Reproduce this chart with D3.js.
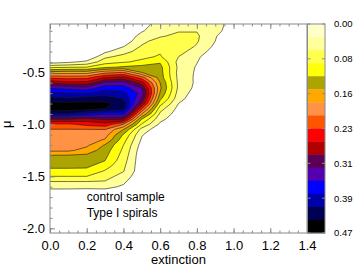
<!DOCTYPE html>
<html>
<head>
<meta charset="utf-8">
<script src="https://cdn.jsdelivr.net/npm/d3@7"></script>
<style>
  body { margin: 0; background: #fff; }
  svg { display: block; }
  text { font-family: "Liberation Sans", Arial, Helvetica, sans-serif; fill: #000; }
</style>
</head>
<body>
<svg id="chart" width="357" height="268"></svg>
<script>
// grid columns (extinction) and rows (mu) of the density map
const extGrid = [0.0, 0.1, 0.2, 0.3, 0.4, 0.5, 0.6, 0.7, 0.8, 0.9, 1.0];
const muGrid = [0.00, -0.05, -0.10, -0.15, -0.20, -0.25, -0.30, -0.35, -0.40, -0.45,
  -0.50, -0.55, -0.60, -0.65, -0.70, -0.75, -0.80, -0.85, -0.90, -0.95,
  -1.00, -1.05, -1.10, -1.15, -1.20, -1.25, -1.30, -1.35, -1.40, -1.45,
  -1.50, -1.55, -1.60, -1.65, -1.70, -1.75];

// density, in colour-step units (1 step = 0.47 / 16), one row per mu value
const densityGrid = [
  [0, 0, 0, 0, 0, 0.5, 1.3, 1.7, 1.9, 1.9, 0],
  [0, 0, 0, 0, 0, 0.7, 1.4, 1.8, 1.9, 1.85, 0],
  [0, 0, 0, 0, 0.2, 0.9, 1.6, 1.9, 1.95, 1.6, 0],
  [0, 0, 0, 0, 0.3, 1.3, 1.85, 2.3, 2.15, 1.1, 0],
  [0, 0, 0, 0, 0.4, 1.7, 2.5, 2.5, 2.1, 1.0, 0],
  [0, 0, 0, 0.2, 0.95, 2.1, 2.7, 2.6, 1.9, 0.8, 0],
  [0, 0, 0, 0.8, 1.65, 2.4, 2.9, 2.3, 1.6, 0.5, 0],
  [0, 0, 0, 1.8, 2.3, 2.8, 3.1, 2.0, 1.2, 0.2, 0],
  [0.45, 0.8, 1.25, 2.57, 2.9, 3.2, 3.9, 1.7, 1.05, 0, 0],
  [2.75, 2.9, 3.0, 3.8, 4.15, 4.4, 4.3, 1.8, 0.9, 0, 0],
  [5.4, 5.5, 5.5, 6.67, 7.0, 5.0, 4.4, 1.7, 0.85, 0, 0],
  [7.7, 7.6, 7.67, 9.0, 9.4, 7.5, 4.5, 1.75, 0.8, 0, 0],
  [9.8, 9.35, 9.4, 11.2, 11.4, 9.5, 5.0, 1.8, 0.8, 0, 0],
  [11.9, 11.7, 11.4, 12.6, 12.5, 11.0, 5.2, 1.8, 0.7, 0, 0],
  [13.2, 13.1, 13.0, 13.6, 13.3, 11.6, 4.9, 1.6, 0.5, 0, 0],
  [14.3, 14.2, 14.4, 14.5, 13.9, 11.0, 4.3, 1.4, 0.3, 0, 0],
  [15.3, 15.25, 15.3, 15.2, 14.7, 10.0, 3.4, 1.0, 0, 0, 0],
  [15.6, 15.6, 15.5, 15.0, 14.4, 8.0, 2.4, 0.7, 0, 0, 0],
  [14.0, 14.0, 13.0, 12.3, 12.5, 6.0, 1.8, 0.5, 0, 0, 0],
  [10.0, 10.0, 9.6, 10.2, 10.0, 4.0, 1.3, 0.3, 0, 0, 0],
  [7.8, 7.8, 8.3, 8.6, 7.0, 2.9, 0.8, 0, 0, 0, 0],
  [6.95, 6.95, 6.95, 7.0, 5.0, 1.6, 0.3, 0, 0, 0, 0],
  [6.8, 6.8, 6.7, 6.45, 3.9, 1.1, 0, 0, 0, 0, 0],
  [6.6, 6.6, 6.45, 5.9, 3.4, 0.85, 0, 0, 0, 0, 0],
  [6.4, 6.4, 6.2, 4.9, 3.0, 0.6, 0, 0, 0, 0, 0],
  [6.2, 6.2, 5.6, 4.5, 2.8, 0.4, 0, 0, 0, 0, 0],
  [4.95, 4.9, 4.8, 4.25, 2.6, 0.3, 0, 0, 0, 0, 0],
  [4.65, 4.65, 4.5, 4.0, 2.4, 0.3, 0, 0, 0, 0, 0],
  [4.25, 4.25, 4.2, 3.45, 2.2, 0.3, 0, 0, 0, 0, 0],
  [3.7, 3.7, 3.7, 2.9, 2.05, 0.3, 0, 0, 0, 0, 0],
  [3.0, 3.0, 3.0, 2.4, 1.6, 0.2, 0, 0, 0, 0, 0],
  [2.0, 2.0, 2.0, 1.95, 1.2, 0, 0, 0, 0, 0, 0],
  [1.3, 1.3, 1.3, 1.3, 0.85, 0, 0, 0, 0, 0, 0],
  [0.6, 0.6, 0.5, 0.6, 0, 0, 0, 0, 0, 0, 0],
  [0, 0, 0, 0, 0, 0, 0, 0, 0, 0, 0],
  [0, 0, 0, 0, 0, 0, 0, 0, 0, 0, 0]
];

const contourLevels = [1, 2, 3, 4, 5, 6, 7, 8, 9, 10, 11, 12, 13, 14, 15];
const bandColors = ['#ffffcc', '#ffff9c', '#ffff4c', '#ffff0a', '#aca400', '#ffa800', '#ff9244',
  '#ff5400', '#ff0000', '#b20000', '#5c0056', '#5400b0', '#0000ff', '#0000a8', '#000052', '#000000'];

const xTicks = [0.0, 0.2, 0.4, 0.6, 0.8, 1.0, 1.2, 1.4];
const yTicks = [-2.0, -1.5, -1.0, -0.5];
const colorbarTicks = [0, 0.0783, 0.1567, 0.235, 0.3133, 0.3917, 0.47];
const notes = ['control sample', 'Type I spirals'];

const plot = { left: 50, right: 307, top: 24, bottom: 233 };
const axisColor = '#8a8a8a';

const svg = d3.select('#chart');

const x = d3.scaleLinear().domain([0, 1.4]).range([plot.left, plot.right]);
const y = d3.scaleLinear().domain([-2.045, -0.035]).range([plot.bottom, plot.top]);

svg.append('defs').append('clipPath').attr('id', 'plot-clip')
  .append('rect')
  .attr('x', plot.left).attr('y', plot.top)
  .attr('width', plot.right - plot.left).attr('height', plot.bottom - plot.top);

// filled contours
const nx = extGrid.length, ny = muGrid.length;
const values = densityGrid.flat();
const contours = d3.contours().size([nx, ny]).thresholds(contourLevels)(values);

const dE = extGrid[1] - extGrid[0], dM = muGrid[1] - muGrid[0];
const gridToScreen = d3.geoTransform({
  point: function (gx, gy) {
    this.stream.point(x(extGrid[0] + (gx - 0.5) * dE), y(muGrid[0] + (gy - 0.5) * dM));
  }
});
const path = d3.geoPath(gridToScreen);

svg.append('g')
  .attr('clip-path', 'url(#plot-clip)')
  .selectAll('path')
  .data(contours)
  .join('path')
  .attr('d', path)
  .attr('fill', d => bandColors[d.value])
  .attr('stroke', '#1a1a1a')
  .attr('stroke-width', 0.6)
  .attr('stroke-linejoin', 'round');

// axes
function styleAxis(g) {
  g.select('.domain').remove();
  g.selectAll('.tick line').attr('stroke', axisColor);
  g.selectAll('.tick text').attr('font-size', 13).attr('fill', '#000');
}

const xMinor = d3.range(0, 1.4001, 0.05);
const yMinor = d3.range(-2.0, -0.05, 0.1);

svg.append('g').attr('transform', `translate(0,${plot.bottom})`)
  .call(d3.axisBottom(x).tickValues(xMinor).tickSize(-2.5).tickFormat(''))
  .call(styleAxis);
svg.append('g').attr('transform', `translate(0,${plot.bottom})`)
  .call(d3.axisBottom(x).tickValues(xTicks).tickSize(-5).tickPadding(8).tickFormat(d => d.toFixed(1)))
  .call(styleAxis);

svg.append('g').attr('transform', `translate(0,${plot.top})`)
  .call(d3.axisTop(x).tickValues(xMinor).tickSize(-2.5).tickFormat(''))
  .call(styleAxis);
svg.append('g').attr('transform', `translate(0,${plot.top})`)
  .call(d3.axisTop(x).tickValues(xTicks).tickSize(-5).tickFormat(''))
  .call(styleAxis);

svg.append('g').attr('transform', `translate(${plot.left},0)`)
  .call(d3.axisLeft(y).tickValues(yMinor).tickSize(-2.5).tickFormat(''))
  .call(styleAxis);
svg.append('g').attr('transform', `translate(${plot.left},0)`)
  .call(d3.axisLeft(y).tickValues(yTicks).tickSize(-5).tickPadding(5).tickFormat(d => d.toFixed(1)))
  .call(styleAxis);

svg.append('rect')
  .attr('x', plot.left).attr('y', plot.top)
  .attr('width', plot.right - plot.left).attr('height', plot.bottom - plot.top)
  .attr('fill', 'none').attr('stroke', axisColor).attr('stroke-width', 1);

// axis titles
svg.append('text')
  .attr('x', x(0.7)).attr('y', 264)
  .attr('text-anchor', 'middle').attr('font-size', 13)
  .text('extinction');

svg.append('text')
  .attr('transform', `translate(11,${y(-1.0)}) rotate(-90)`)
  .attr('text-anchor', 'middle').attr('font-size', 13)
  .text('μ');

svg.selectAll('.note')
  .data(notes)
  .join('text')
  .attr('class', 'note')
  .attr('x', x(0.2))
  .attr('y', (d, i) => 201 + i * 15.5)
  .attr('font-size', 12)
  .text(d => d);

// colour bar
const cb = { left: 307.5, width: 17.5 };
const cbScale = d3.scaleLinear().domain([0, 0.47]).range([plot.top, plot.bottom]);
const step = 0.47 / bandColors.length;

svg.append('g')
  .selectAll('rect')
  .data(bandColors)
  .join('rect')
  .attr('x', cb.left)
  .attr('y', (d, i) => cbScale(i * step))
  .attr('width', cb.width)
  .attr('height', cbScale(step) - cbScale(0) + 0.3)
  .attr('fill', d => d);

svg.append('rect')
  .attr('x', cb.left).attr('y', plot.top)
  .attr('width', cb.width).attr('height', plot.bottom - plot.top)
  .attr('fill', 'none').attr('stroke', axisColor).attr('stroke-width', 1);

const cbTicks = svg.append('g').selectAll('g')
  .data(colorbarTicks)
  .join('g')
  .attr('transform', d => `translate(0,${cbScale(d)})`);

cbTicks.append('line')
  .attr('x1', cb.left).attr('x2', cb.left + 3)
  .attr('stroke', axisColor);
cbTicks.append('line')
  .attr('x1', cb.left + cb.width - 3).attr('x2', cb.left + cb.width)
  .attr('stroke', axisColor);
cbTicks.append('text')
  .attr('x', 334)
  .attr('dy', '0.35em')
  .attr('font-size', 9.5)
  .text(d => d.toFixed(2));
</script>
</body>
</html>
